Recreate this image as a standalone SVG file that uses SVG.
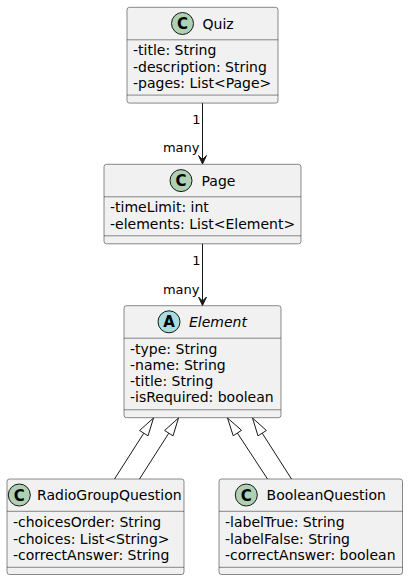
<svg xmlns="http://www.w3.org/2000/svg" width="408" height="580" viewBox="0 0 408 580">
<style>
text{font-family:"DejaVu Sans",Verdana,sans-serif;fill:#000}
.box{fill:#F1F1F1;stroke:#181818;stroke-width:0.5}
.sep{stroke:#181818;stroke-width:0.5}
.name{font-size:14px}
.attr{font-size:14px}
.lbl{font-size:13px}
.circC{fill:#ADD1B2;stroke:#181818;stroke-width:1}
.circA{fill:#A9DCDF;stroke:#181818;stroke-width:1}
.glyph{font-size:15px;font-weight:bold;text-anchor:middle}
.edge{stroke:#181818;stroke-width:1;fill:none}
.head{fill:#181818;stroke:#181818;stroke-width:1}
.tri{fill:#FFFFFF;stroke:#181818;stroke-width:1}
</style>
<rect width="408" height="580" fill="#FFFFFF"/>
<g id="Quiz">
<rect class="box" x="127" y="7.3" width="151" height="95.8" rx="2.5"/>
<line class="sep" x1="127" y1="39.8" x2="278" y2="39.8"/>
<line class="sep" x1="127" y1="95.1" x2="278" y2="95.1"/>
<circle class="circC" cx="182.5" cy="23.5" r="11"/>
<text class="glyph" x="182.5" y="29">C</text>
<text class="name" x="202.5" y="28.6">Quiz</text>
<text class="attr" x="133" y="55.4">-title: String</text>
<text class="attr" x="133" y="71.6">-description: String</text>
<text class="attr" x="133" y="87.8">-pages: List&lt;Page&gt;</text>
</g>
<g id="Page">
<rect class="box" x="104" y="164.3" width="197" height="79.5" rx="2.5"/>
<line class="sep" x1="104" y1="196.8" x2="301" y2="196.8"/>
<line class="sep" x1="104" y1="235.8" x2="301" y2="235.8"/>
<circle class="circC" cx="181" cy="180.6" r="11"/>
<text class="glyph" x="181" y="186.1">C</text>
<text class="name" x="201.5" y="185.7">Page</text>
<text class="attr" x="110" y="212.3">-timeLimit: int</text>
<text class="attr" x="110" y="228.5">-elements: List&lt;Element&gt;</text>
</g>
<g id="Element">
<rect class="box" x="124" y="305.7" width="157" height="112" rx="2.5"/>
<line class="sep" x1="124" y1="338.2" x2="281" y2="338.2"/>
<line class="sep" x1="124" y1="409.8" x2="281" y2="409.8"/>
<circle class="circA" cx="169" cy="321.8" r="11"/>
<text class="glyph" x="169" y="327.3">A</text>
<text class="name" x="189" y="327" font-style="italic">Element</text>
<text class="attr" x="130" y="353.6">-type: String</text>
<text class="attr" x="130" y="369.8">-name: String</text>
<text class="attr" x="130" y="386">-title: String</text>
<text class="attr" x="130" y="402.2">-isRequired: boolean</text>
</g>
<g id="RadioGroupQuestion">
<rect class="box" x="7" y="479" width="177" height="95.5" rx="2.5"/>
<line class="sep" x1="7" y1="511.3" x2="184" y2="511.3"/>
<line class="sep" x1="7" y1="567.3" x2="184" y2="567.3"/>
<circle class="circC" cx="19.3" cy="495" r="11"/>
<text class="glyph" x="19.3" y="500.5">C</text>
<text class="name" x="37" y="500.3">RadioGroupQuestion</text>
<text class="attr" x="13" y="527.3">-choicesOrder: String</text>
<text class="attr" x="13" y="543.5">-choices: List&lt;String&gt;</text>
<text class="attr" x="13" y="559.7">-correctAnswer: String</text>
</g>
<g id="BooleanQuestion">
<rect class="box" x="219" y="479" width="183.5" height="95.5" rx="2.5"/>
<line class="sep" x1="219" y1="511.3" x2="402.5" y2="511.3"/>
<line class="sep" x1="219" y1="567.3" x2="402.5" y2="567.3"/>
<circle class="circC" cx="246.3" cy="495" r="11"/>
<text class="glyph" x="246.3" y="500.5">C</text>
<text class="name" x="266.6" y="500.3">BooleanQuestion</text>
<text class="attr" x="225" y="527.3">-labelTrue: String</text>
<text class="attr" x="225" y="543.5">-labelFalse: String</text>
<text class="attr" x="225" y="559.7">-correctAnswer: boolean</text>
</g>
<g id="connectors">
<line class="edge" x1="202.5" y1="103.1" x2="202.5" y2="160"/>
<polygon class="head" points="202.5,164 198.5,155.5 202.5,159.5 206.5,155.5"/>
<text class="lbl" x="200.5" y="123.5" text-anchor="end">1</text>
<text class="lbl" x="199.5" y="152.3" text-anchor="end">many</text>
<line class="edge" x1="202.5" y1="243.8" x2="202.5" y2="301.5"/>
<polygon class="head" points="202.5,305.5 198.5,297 202.5,301 206.5,297"/>
<text class="lbl" x="200.5" y="264.8" text-anchor="end">1</text>
<text class="lbl" x="199.5" y="293.8" text-anchor="end">many</text>
<line class="edge" x1="143.8" y1="433.17" x2="114.5" y2="479"/>
<polygon class="tri" points="153.5,418 148.01,435.86 139.59,430.48"/>
<line class="edge" x1="168.8" y1="433.17" x2="139.5" y2="479"/>
<polygon class="tri" points="178.5,418 173.01,435.86 164.59,430.48"/>
<line class="edge" x1="237.37" y1="433.05" x2="267.5" y2="479"/>
<polygon class="tri" points="227.5,418 233.19,435.79 241.55,430.31"/>
<line class="edge" x1="262.2" y1="433.17" x2="291.5" y2="479"/>
<polygon class="tri" points="252.5,418 257.99,435.86 266.41,430.48"/>
</g>
</svg>
